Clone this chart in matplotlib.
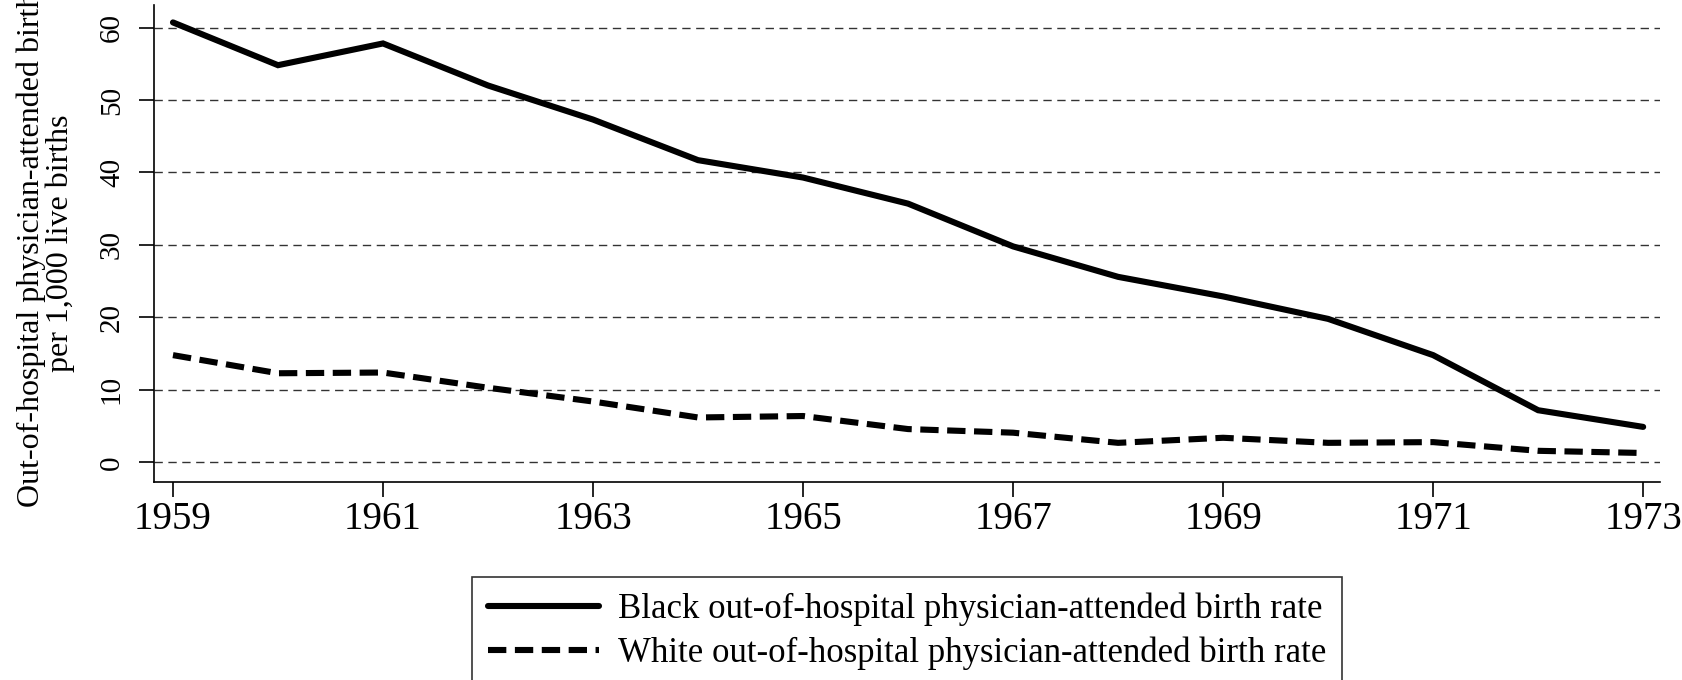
import numpy as np
import matplotlib.pyplot as plt

years = [1959, 1960, 1961, 1962, 1963, 1964, 1965, 1966, 1967, 1968, 1969, 1970, 1971, 1972, 1973]
black_rate = [60.7, 54.8, 57.8, 52.0, 47.3, 41.7, 39.3, 35.7, 29.8, 25.6, 22.9, 19.8, 14.8, 7.2, 4.9]
white_rate = [14.8, 12.3, 12.4, 10.3, 8.4, 6.2, 6.4, 4.6, 4.1, 2.7, 3.4, 2.7, 2.8, 1.6, 1.3]

xticks = [1959, 1961, 1963, 1965, 1967, 1969, 1971, 1973]
yticks = [0, 10, 20, 30, 40, 50, 60]

plt.rcParams["font.family"] = ["Liberation Serif", "DejaVu Serif"]

fig = plt.figure(figsize=(16.82, 6.8), dpi=100)
ax = fig.add_axes([0.0916, 0.2912, 0.8953, 0.7014])

for y in yticks:
    ax.axhline(y, color="#333333", lw=1.0, ls=(0, (6, 4)), zorder=1)

ax.plot(years, black_rate, color="black", lw=4.4, solid_capstyle="round",
        solid_joinstyle="miter", label="Black out-of-hospital physician-attended birth rate", zorder=3)
ax.plot(years, white_rate, color="black", lw=4.4, ls=(0, (3, 1.4)),
        label="White out-of-hospital physician-attended birth rate", zorder=3)

ax.set_xlim(1958.82, 1973.16)
ax.set_ylim(-2.7, 63.1)
ax.set_xticks(xticks)
ax.set_yticks(yticks)
ax.tick_params(axis="x", labelsize=28, length=11, width=1.2, pad=3)
ax.tick_params(axis="y", labelsize=21, length=11, width=1.2, pad=10)
for lab in ax.get_yticklabels():
    lab.set_rotation(90)
    lab.set_va("center")

for s in ["top", "right"]:
    ax.spines[s].set_visible(False)
for s in ["left", "bottom"]:
    ax.spines[s].set_linewidth(1.2)

# label runs off the top edge in the original as well
ax.set_ylabel("Out-of-hospital physician-attended births\nper 1,000 live births", fontsize=23,
              linespacing=1.0, labelpad=17)

leg = fig.legend(loc="upper center", bbox_to_anchor=(0.5393, 1 - 577 / 680), ncol=1,
                 fontsize=25, frameon=True, fancybox=False, edgecolor="black",
                 handlelength=3.2, handletextpad=0.55, borderpad=0.45, labelspacing=0.3,
                 borderaxespad=0)
leg.get_frame().set_linewidth(1.2)

fig.savefig("out.png", dpi=100)
